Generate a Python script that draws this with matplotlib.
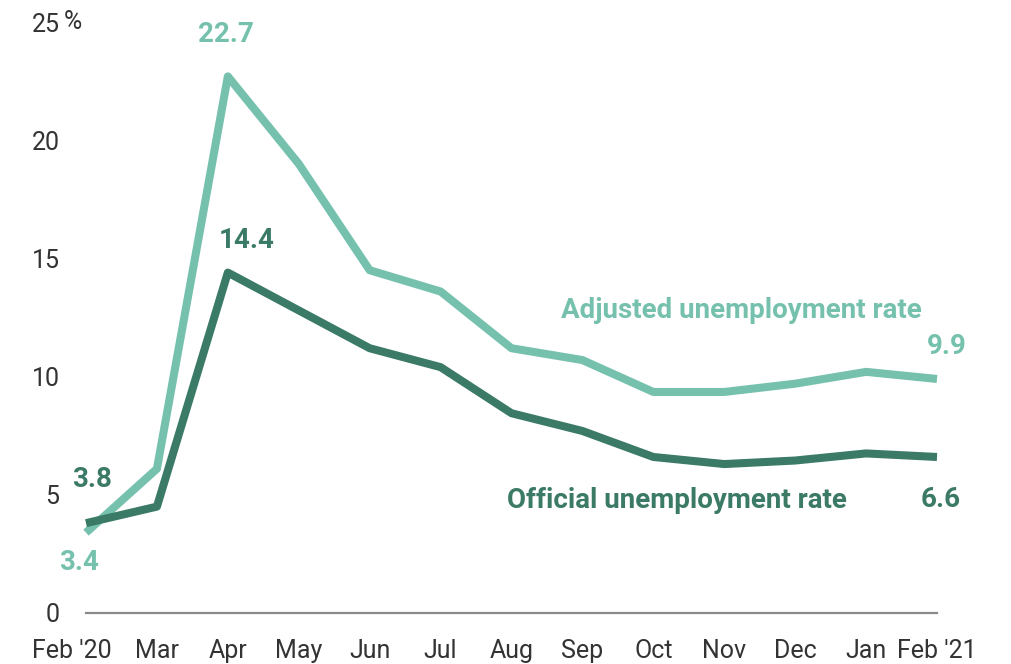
import numpy as np
import matplotlib
matplotlib.use('Agg')
import matplotlib.pyplot as plt
import matplotlib.transforms as mtransforms

plt.rcParams['font.family'] = ['Roboto', 'DejaVu Sans']

#data
months = ["Feb '20", 'Mar', 'Apr', 'May', 'Jun', 'Jul', 'Aug', 'Sep', 'Oct', 'Nov', 'Dec', 'Jan', "Feb '21"]
adjusted = [3.4, 6.1, 22.7, 19.0, 14.5, 13.6, 11.2, 10.7, 9.35, 9.35, 9.7, 10.2, 9.9]
official = [3.8, 4.5, 14.4, 12.8, 11.2, 10.4, 8.45, 7.7, 6.6, 6.3, 6.45, 6.75, 6.6]
y_ticks = [0, 5, 10, 15, 20, 25]

c_adj = '#76c1ad'
c_off = '#3b7a66'
c_txt = '#333333'

fig = plt.figure(figsize=(10.12, 6.64), dpi=100)
ax = fig.add_axes([86/1012, 1 - 613/664, (937-86)/1012, (613-22)/664])

x = np.arange(len(months))
ax.plot(x, adjusted, color=c_adj, lw=5.8, solid_capstyle='butt', clip_on=False)
ax.plot(x, official, color=c_off, lw=5.8, solid_capstyle='butt', clip_on=False)

ax.set_xlim(0, len(months) - 1)
ax.set_ylim(0, 25)

for s in ['top', 'right', 'left']:
    ax.spines[s].set_visible(False)
ax.spines['bottom'].set_color('#8a8a8a')
ax.spines['bottom'].set_linewidth(1.6)

ax.set_yticks(y_ticks)
ax.set_yticklabels([str(t) for t in y_ticks])
ax.set_xticks(x)
ax.set_xticklabels(months)
ax.tick_params(axis='both', length=0, labelsize=18, colors=c_txt)
ax.tick_params(axis='y', pad=19)
ax.tick_params(axis='x', pad=19)

#nudge first month label left like in the original
lab0 = ax.get_xticklabels()[0]
lab0.set_transform(lab0.get_transform() + mtransforms.ScaledTranslation(-0.14, 0, fig.dpi_scale_trans))

#percent sign after top tick
ax.annotate('%', (0, 25), xytext=(-22, 0), textcoords='offset pixels', fontsize=18, color=c_txt,
            ha='left', va='center', annotation_clip=False)

bold = dict(fontsize=20, fontweight='bold', ha='center', va='center', textcoords='offset pixels',
            annotation_clip=False)
ax.annotate(f'{adjusted[2]}', (x[2], adjusted[2]), xytext=(-2, 42), color=c_adj, **bold)
ax.annotate(f'{official[2]}', (x[2], official[2]), xytext=(19, 32), color=c_off, **bold)
ax.annotate(f'{official[0]}', (x[0], official[0]), xytext=(6, 44), color=c_off, **bold)
ax.annotate(f'{adjusted[0]}', (x[0], adjusted[0]), xytext=(-7, -30), color=c_adj, **bold)
ax.annotate(f'{adjusted[-1]}', (x[-1], adjusted[-1]), xytext=(10, 32), color=c_adj, **bold)
ax.annotate(f'{official[-1]}', (x[-1], official[-1]), xytext=(4, -43), color=c_off, **bold)

ax.text(11.79, 12.8, 'Adjusted unemployment rate', color=c_adj, fontsize=20, fontweight='bold', ha='right', va='center')
ax.text(10.73, 4.78, 'Official unemployment rate', color=c_off, fontsize=20, fontweight='bold', ha='right', va='center')

fig.savefig('out.png', dpi=100)
